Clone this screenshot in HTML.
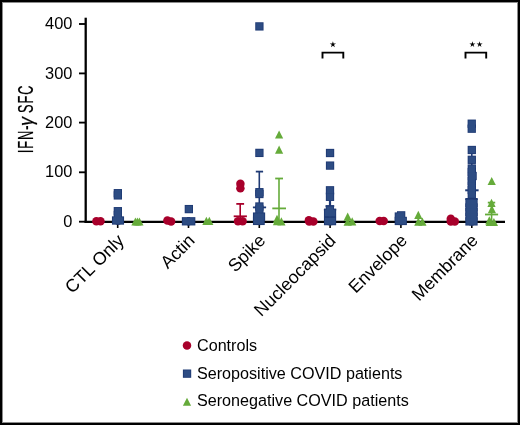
<!DOCTYPE html>
<html><head><meta charset="utf-8"><style>
html,body{margin:0;padding:0;background:#fff;}
body{width:520px;height:425px;overflow:hidden;}
svg{display:block;will-change:transform;}
text{font-family:"Liberation Sans",sans-serif;fill:#000;}
</style></head><body>
<svg width="520" height="425" viewBox="0 0 520 425">
<rect x="0" y="0" width="520" height="425" fill="#fff"/>
<rect x="2.5" y="2.5" width="515" height="420" fill="none" stroke="#8c8c8c" stroke-width="1"/>
<rect x="1" y="1" width="518" height="423" fill="none" stroke="#000" stroke-width="2"/>
<!-- y axis -->
<line x1="85.7" y1="17.7" x2="85.7" y2="222.8" stroke="#000" stroke-width="2.3"/>
<g stroke="#000" stroke-width="1.85">
<line x1="79" y1="24" x2="85.7" y2="24"/>
<line x1="79" y1="73.4" x2="85.7" y2="73.4"/>
<line x1="79" y1="122.6" x2="85.7" y2="122.6"/>
<line x1="79" y1="172.3" x2="85.7" y2="172.3"/>
<line x1="79" y1="221.7" x2="85.7" y2="221.7"/>
</g>
<g font-size="16.4" text-anchor="end">
<text x="72.4" y="28.8">400</text>
<text x="72.4" y="78.5">300</text>
<text x="72.4" y="127.7">200</text>
<text x="72.4" y="177.3">100</text>
<text x="72.4" y="226.7">0</text>
</g>
<g transform="translate(33.1,153.3) rotate(-90)" stroke="#000" stroke-width="0.2"><text transform="scale(0.6,1)" font-size="21.5" letter-spacing="1.5">IFN-</text><text font-family="Liberation Serif" font-style="italic" font-size="20" transform="translate(27.3,0) scale(0.9,1)">γ</text><text transform="translate(40.2,0) scale(0.6,1)" font-size="21.5" letter-spacing="1.5">SFC</text></g>
<!-- x axis -->
<line x1="84.6" y1="221.9" x2="505" y2="221.9" stroke="#000" stroke-width="2.3"/>
<g stroke="#000" stroke-width="1.6">
<line x1="117.7" y1="221.7" x2="117.7" y2="228"/>
<line x1="188.5" y1="221.7" x2="188.5" y2="228"/>
<line x1="259.3" y1="221.7" x2="259.3" y2="228"/>
<line x1="330.1" y1="221.7" x2="330.1" y2="228"/>
<line x1="400.9" y1="221.7" x2="400.9" y2="228"/>
<line x1="471.8" y1="221.7" x2="471.8" y2="228"/>
</g>
<g font-size="17.8" text-anchor="end">
<text transform="translate(125.0,241.6) rotate(-45)">CTL Only</text>
<text transform="translate(195.8,241.6) rotate(-45)">Actin</text>
<text transform="translate(266.6,241.6) rotate(-45)">Spike</text>
<text transform="translate(336.8,241.8) rotate(-45)">Nucleocapsid</text>
<text transform="translate(408.2,241.6) rotate(-45)">Envelope</text>
<text transform="translate(479.1,241.6) rotate(-45)">Membrane</text>
</g>
<!-- data -->
<circle cx="96.4" cy="221.2" r="4.25" fill="#A8002B"/>
<circle cx="100.5" cy="221.2" r="4.25" fill="#A8002B"/>
<circle cx="167.4" cy="220.5" r="4.25" fill="#A8002B"/>
<circle cx="171.1" cy="221.4" r="4.25" fill="#A8002B"/>
<circle cx="240.4" cy="183.8" r="4.25" fill="#A8002B"/>
<circle cx="240.4" cy="188.2" r="4.25" fill="#A8002B"/>
<circle cx="238.0" cy="221.3" r="4.25" fill="#A8002B"/>
<circle cx="242.6" cy="221.3" r="4.25" fill="#A8002B"/>
<circle cx="308.9" cy="220.3" r="4.25" fill="#A8002B"/>
<circle cx="309.2" cy="221.5" r="4.25" fill="#A8002B"/>
<circle cx="313.4" cy="221.5" r="4.25" fill="#A8002B"/>
<circle cx="379.7" cy="221.1" r="4.25" fill="#A8002B"/>
<circle cx="383.7" cy="221.1" r="4.25" fill="#A8002B"/>
<circle cx="450.8" cy="218.7" r="4.25" fill="#A8002B"/>
<circle cx="450.8" cy="221.6" r="4.25" fill="#A8002B"/>
<circle cx="454.8" cy="221.6" r="4.25" fill="#A8002B"/>
<line x1="259.3" y1="171.6" x2="259.3" y2="221.7" stroke="#1f3a74" stroke-width="1.6"/>
<line x1="255.8" y1="171.6" x2="263.1" y2="171.6" stroke="#1f3a74" stroke-width="1.8"/>
<line x1="252.9" y1="207.4" x2="266.1" y2="207.4" stroke="#1f3a74" stroke-width="1.8"/>
<line x1="330.0" y1="200.9" x2="330.0" y2="207" stroke="#1f3a74" stroke-width="2.2"/>
<line x1="325.6" y1="206.0" x2="334.2" y2="206.0" stroke="#1f3a74" stroke-width="1.8"/>
<line x1="323.9" y1="209.6" x2="336.2" y2="209.6" stroke="#1f3a74" stroke-width="1.8"/>
<line x1="465.2" y1="190.3" x2="478.6" y2="190.3" stroke="#1f3a74" stroke-width="2.0"/>
<line x1="471.8" y1="147.0" x2="471.8" y2="190.3" stroke="#1f3a74" stroke-width="1.6"/>
<line x1="465.3" y1="199.0" x2="477.7" y2="199.0" stroke="#1f3a74" stroke-width="2.0"/>
<rect x="113.70" y="189.05" width="8.3" height="8.3" fill="#1f3a74"/>
<rect x="113.70" y="191.25" width="8.3" height="8.3" fill="#1f3a74"/>
<rect x="113.70" y="207.05" width="8.3" height="8.3" fill="#1f3a74"/>
<rect x="113.70" y="210.85" width="8.3" height="8.3" fill="#1f3a74"/>
<rect x="111.95" y="216.35" width="8.3" height="8.3" fill="#1f3a74"/>
<rect x="115.75" y="216.35" width="8.3" height="8.3" fill="#1f3a74"/>
<rect x="184.70" y="204.95" width="8.3" height="8.3" fill="#1f3a74"/>
<rect x="181.85" y="217.15" width="8.3" height="8.3" fill="#1f3a74"/>
<rect x="187.05" y="217.15" width="8.3" height="8.3" fill="#1f3a74"/>
<rect x="255.25" y="22.25" width="8.3" height="8.3" fill="#1f3a74"/>
<rect x="255.25" y="148.75" width="8.3" height="8.3" fill="#1f3a74"/>
<rect x="255.25" y="188.05" width="8.3" height="8.3" fill="#1f3a74"/>
<rect x="255.25" y="189.85" width="8.3" height="8.3" fill="#1f3a74"/>
<rect x="255.25" y="202.35" width="8.3" height="8.3" fill="#1f3a74"/>
<rect x="255.25" y="205.35" width="8.3" height="8.3" fill="#1f3a74"/>
<rect x="252.95" y="212.45" width="8.3" height="8.3" fill="#1f3a74"/>
<rect x="256.85" y="212.45" width="8.3" height="8.3" fill="#1f3a74"/>
<rect x="252.95" y="216.75" width="8.3" height="8.3" fill="#1f3a74"/>
<rect x="256.45" y="216.75" width="8.3" height="8.3" fill="#1f3a74"/>
<rect x="325.90" y="148.85" width="8.3" height="8.3" fill="#1f3a74"/>
<rect x="325.90" y="161.45" width="8.3" height="8.3" fill="#1f3a74"/>
<rect x="325.85" y="186.15" width="8.3" height="8.3" fill="#1f3a74"/>
<rect x="325.85" y="192.65" width="8.3" height="8.3" fill="#1f3a74"/>
<rect x="325.75" y="205.65" width="8.3" height="8.3" fill="#1f3a74"/>
<rect x="323.95" y="208.85" width="8.3" height="8.3" fill="#1f3a74"/>
<rect x="327.85" y="208.85" width="8.3" height="8.3" fill="#1f3a74"/>
<rect x="323.95" y="216.95" width="8.3" height="8.3" fill="#1f3a74"/>
<rect x="327.85" y="216.95" width="8.3" height="8.3" fill="#1f3a74"/>
<rect x="397.00" y="211.20" width="8.3" height="8.3" fill="#1f3a74"/>
<rect x="394.70" y="212.40" width="8.3" height="8.3" fill="#1f3a74"/>
<rect x="398.60" y="216.80" width="8.3" height="8.3" fill="#1f3a74"/>
<rect x="394.70" y="216.80" width="8.3" height="8.3" fill="#1f3a74"/>
<rect x="467.60" y="119.55" width="8.3" height="8.3" fill="#1f3a74"/>
<rect x="467.60" y="124.55" width="8.3" height="8.3" fill="#1f3a74"/>
<rect x="467.65" y="145.85" width="8.3" height="8.3" fill="#1f3a74"/>
<rect x="467.65" y="155.65" width="8.3" height="8.3" fill="#1f3a74"/>
<rect x="467.65" y="164.35" width="8.3" height="8.3" fill="#1f3a74"/>
<rect x="467.65" y="167.85" width="8.3" height="8.3" fill="#1f3a74"/>
<rect x="467.65" y="172.35" width="8.3" height="8.3" fill="#1f3a74"/>
<rect x="467.65" y="176.85" width="8.3" height="8.3" fill="#1f3a74"/>
<rect x="467.65" y="181.35" width="8.3" height="8.3" fill="#1f3a74"/>
<rect x="467.65" y="185.85" width="8.3" height="8.3" fill="#1f3a74"/>
<rect x="467.65" y="190.35" width="8.3" height="8.3" fill="#1f3a74"/>
<rect x="468.45" y="171.85" width="8.3" height="8.3" fill="#1f3a74"/>
<rect x="465.35" y="198.85" width="8.3" height="8.3" fill="#1f3a74"/>
<rect x="469.35" y="198.85" width="8.3" height="8.3" fill="#1f3a74"/>
<rect x="465.35" y="203.35" width="8.3" height="8.3" fill="#1f3a74"/>
<rect x="469.35" y="203.35" width="8.3" height="8.3" fill="#1f3a74"/>
<rect x="465.35" y="207.85" width="8.3" height="8.3" fill="#1f3a74"/>
<rect x="469.35" y="207.85" width="8.3" height="8.3" fill="#1f3a74"/>
<rect x="465.35" y="212.35" width="8.3" height="8.3" fill="#1f3a74"/>
<rect x="469.35" y="212.35" width="8.3" height="8.3" fill="#1f3a74"/>
<rect x="465.35" y="217.25" width="8.3" height="8.3" fill="#1f3a74"/>
<rect x="469.35" y="217.25" width="8.3" height="8.3" fill="#1f3a74"/>
<rect x="114.60" y="189.95" width="6.50" height="6.50" fill="#2D4C83"/>
<rect x="114.60" y="192.15" width="6.50" height="6.50" fill="#2D4C83"/>
<rect x="114.60" y="207.95" width="6.50" height="6.50" fill="#2D4C83"/>
<rect x="114.60" y="211.75" width="6.50" height="6.50" fill="#2D4C83"/>
<rect x="112.85" y="217.25" width="6.50" height="6.50" fill="#2D4C83"/>
<rect x="116.65" y="217.25" width="6.50" height="6.50" fill="#2D4C83"/>
<rect x="185.60" y="205.85" width="6.50" height="6.50" fill="#2D4C83"/>
<rect x="182.75" y="218.05" width="6.50" height="6.50" fill="#2D4C83"/>
<rect x="187.95" y="218.05" width="6.50" height="6.50" fill="#2D4C83"/>
<rect x="256.15" y="23.15" width="6.50" height="6.50" fill="#2D4C83"/>
<rect x="256.15" y="149.65" width="6.50" height="6.50" fill="#2D4C83"/>
<rect x="256.15" y="188.95" width="6.50" height="6.50" fill="#2D4C83"/>
<rect x="256.15" y="190.75" width="6.50" height="6.50" fill="#2D4C83"/>
<rect x="256.15" y="203.25" width="6.50" height="6.50" fill="#2D4C83"/>
<rect x="256.15" y="206.25" width="6.50" height="6.50" fill="#2D4C83"/>
<rect x="253.85" y="213.35" width="6.50" height="6.50" fill="#2D4C83"/>
<rect x="257.75" y="213.35" width="6.50" height="6.50" fill="#2D4C83"/>
<rect x="253.85" y="217.65" width="6.50" height="6.50" fill="#2D4C83"/>
<rect x="257.35" y="217.65" width="6.50" height="6.50" fill="#2D4C83"/>
<rect x="326.80" y="149.75" width="6.50" height="6.50" fill="#2D4C83"/>
<rect x="326.80" y="162.35" width="6.50" height="6.50" fill="#2D4C83"/>
<rect x="326.75" y="187.05" width="6.50" height="6.50" fill="#2D4C83"/>
<rect x="326.75" y="193.55" width="6.50" height="6.50" fill="#2D4C83"/>
<rect x="326.65" y="206.55" width="6.50" height="6.50" fill="#2D4C83"/>
<rect x="324.85" y="209.75" width="6.50" height="6.50" fill="#2D4C83"/>
<rect x="328.75" y="209.75" width="6.50" height="6.50" fill="#2D4C83"/>
<rect x="324.85" y="217.85" width="6.50" height="6.50" fill="#2D4C83"/>
<rect x="328.75" y="217.85" width="6.50" height="6.50" fill="#2D4C83"/>
<rect x="397.90" y="212.10" width="6.50" height="6.50" fill="#2D4C83"/>
<rect x="395.60" y="213.30" width="6.50" height="6.50" fill="#2D4C83"/>
<rect x="399.50" y="217.70" width="6.50" height="6.50" fill="#2D4C83"/>
<rect x="395.60" y="217.70" width="6.50" height="6.50" fill="#2D4C83"/>
<rect x="468.50" y="120.45" width="6.50" height="6.50" fill="#2D4C83"/>
<rect x="468.50" y="125.45" width="6.50" height="6.50" fill="#2D4C83"/>
<rect x="468.55" y="146.75" width="6.50" height="6.50" fill="#2D4C83"/>
<rect x="468.55" y="156.55" width="6.50" height="6.50" fill="#2D4C83"/>
<rect x="468.55" y="165.25" width="6.50" height="6.50" fill="#2D4C83"/>
<rect x="468.55" y="168.75" width="6.50" height="6.50" fill="#2D4C83"/>
<rect x="468.55" y="173.25" width="6.50" height="6.50" fill="#2D4C83"/>
<rect x="468.55" y="177.75" width="6.50" height="6.50" fill="#2D4C83"/>
<rect x="468.55" y="182.25" width="6.50" height="6.50" fill="#2D4C83"/>
<rect x="468.55" y="186.75" width="6.50" height="6.50" fill="#2D4C83"/>
<rect x="468.55" y="191.25" width="6.50" height="6.50" fill="#2D4C83"/>
<rect x="469.35" y="172.75" width="6.50" height="6.50" fill="#2D4C83"/>
<rect x="466.25" y="199.75" width="6.50" height="6.50" fill="#2D4C83"/>
<rect x="470.25" y="199.75" width="6.50" height="6.50" fill="#2D4C83"/>
<rect x="466.25" y="204.25" width="6.50" height="6.50" fill="#2D4C83"/>
<rect x="470.25" y="204.25" width="6.50" height="6.50" fill="#2D4C83"/>
<rect x="466.25" y="208.75" width="6.50" height="6.50" fill="#2D4C83"/>
<rect x="470.25" y="208.75" width="6.50" height="6.50" fill="#2D4C83"/>
<rect x="466.25" y="213.25" width="6.50" height="6.50" fill="#2D4C83"/>
<rect x="470.25" y="213.25" width="6.50" height="6.50" fill="#2D4C83"/>
<rect x="466.25" y="218.15" width="6.50" height="6.50" fill="#2D4C83"/>
<rect x="470.25" y="218.15" width="6.50" height="6.50" fill="#2D4C83"/>
<path d="M135.40 217.40L139.50 225.60L131.30 225.60Z" fill="#65AB3A"/>
<path d="M137.40 217.40L141.50 225.60L133.30 225.60Z" fill="#65AB3A"/>
<path d="M139.40 217.40L143.50 225.60L135.30 225.60Z" fill="#65AB3A"/>
<path d="M206.40 216.70L210.50 224.90L202.30 224.90Z" fill="#65AB3A"/>
<path d="M209.30 216.70L213.40 224.90L205.20 224.90Z" fill="#65AB3A"/>
<path d="M279.10 130.40L283.20 138.60L275.00 138.60Z" fill="#65AB3A"/>
<path d="M279.10 145.50L283.20 153.70L275.00 153.70Z" fill="#65AB3A"/>
<path d="M277.00 214.80L281.10 223.00L272.90 223.00Z" fill="#65AB3A"/>
<path d="M277.00 217.10L281.10 225.30L272.90 225.30Z" fill="#65AB3A"/>
<path d="M281.40 217.30L285.50 225.50L277.30 225.50Z" fill="#65AB3A"/>
<path d="M347.70 212.50L351.80 220.70L343.60 220.70Z" fill="#65AB3A"/>
<path d="M347.70 217.50L351.80 225.70L343.60 225.70Z" fill="#65AB3A"/>
<path d="M352.20 217.30L356.30 225.50L348.10 225.50Z" fill="#65AB3A"/>
<path d="M418.30 210.70L422.40 218.90L414.20 218.90Z" fill="#65AB3A"/>
<path d="M418.30 217.50L422.40 225.70L414.20 225.70Z" fill="#65AB3A"/>
<path d="M422.40 217.50L426.50 225.70L418.30 225.70Z" fill="#65AB3A"/>
<path d="M491.70 176.90L495.80 185.10L487.60 185.10Z" fill="#65AB3A"/>
<path d="M491.50 198.70L495.60 206.90L487.40 206.90Z" fill="#65AB3A"/>
<path d="M491.90 205.10L496.00 213.30L487.80 213.30Z" fill="#65AB3A"/>
<path d="M489.30 216.20L493.40 224.40L485.20 224.40Z" fill="#65AB3A"/>
<path d="M489.80 217.70L493.90 225.90L485.70 225.90Z" fill="#65AB3A"/>
<path d="M493.90 217.90L498.00 226.10L489.80 226.10Z" fill="#65AB3A"/>
<line x1="240.2" y1="203.9" x2="240.2" y2="221.7" stroke="#A8002B" stroke-width="1.6"/>
<line x1="236.3" y1="203.9" x2="244.1" y2="203.9" stroke="#A8002B" stroke-width="1.8"/>
<line x1="233.7" y1="216.3" x2="246.9" y2="216.3" stroke="#A8002B" stroke-width="1.8"/>
<line x1="279.0" y1="178.5" x2="279.0" y2="221.7" stroke="#65AB3A" stroke-width="1.6"/>
<line x1="275.2" y1="178.5" x2="283.0" y2="178.5" stroke="#65AB3A" stroke-width="1.8"/>
<line x1="272.3" y1="208.4" x2="286.0" y2="208.4" stroke="#65AB3A" stroke-width="1.8"/>
<line x1="491.6" y1="202.5" x2="491.6" y2="221.7" stroke="#65AB3A" stroke-width="1.6"/>
<line x1="487.8" y1="202.6" x2="495.2" y2="202.6" stroke="#65AB3A" stroke-width="1.8"/>
<line x1="485.0" y1="214.5" x2="498.1" y2="214.5" stroke="#65AB3A" stroke-width="1.8"/>
<!-- brackets -->
<path d="M322.5 58.6V52.6H343.3V58.6" fill="none" stroke="#000" stroke-width="1.9"/>
<path d="M465.5 58.6V52.6H486.2V58.6" fill="none" stroke="#000" stroke-width="1.9"/>
<polygon points="332.90,41.20 333.60,43.54 336.04,43.48 334.03,44.87 334.84,47.17 332.90,45.69 330.96,47.17 331.77,44.87 329.76,43.48 332.20,43.54" fill="#000"/>
<polygon points="472.40,41.20 473.08,43.47 475.44,43.41 473.50,44.76 474.28,46.99 472.40,45.55 470.52,46.99 471.30,44.76 469.36,43.41 471.72,43.47" fill="#000"/><polygon points="479.60,41.20 480.28,43.47 482.64,43.41 480.70,44.76 481.48,46.99 479.60,45.55 477.72,46.99 478.50,44.76 476.56,43.41 478.92,43.47" fill="#000"/>
<!-- legend -->
<circle cx="187" cy="345.6" r="4.25" fill="#A8002B"/>
<rect x="182.9" y="369.5" width="8.3" height="8.3" fill="#1f3a74"/><rect x="183.8" y="370.4" width="6.5" height="6.5" fill="#2D4C83"/>
<path d="M187 397.7L191.1 405.8L182.9 405.8Z" fill="#65AB3A"/>
<g font-size="16.15">
<text x="197" y="350.8">Controls</text>
<text x="197" y="378.6">Seropositive COVID patients</text>
<text x="197" y="406.3">Seronegative COVID patients</text>
</g>
</svg>
</body></html>
